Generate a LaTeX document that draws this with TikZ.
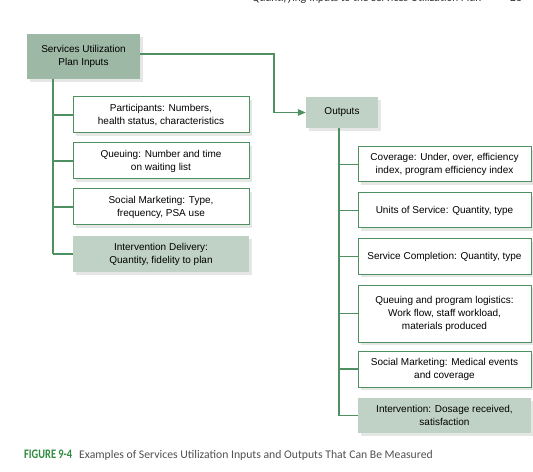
\documentclass[tikz,border=0pt]{standalone}
\usepackage{fontspec}
\setmainfont{Liberation Sans}
\newfontfamily\capfont{Carlito}
\usetikzlibrary{arrows.meta,shadows}
\definecolor{lgreen}{HTML}{4F9062}
\definecolor{darkfill}{HTML}{9DB8A4}
\definecolor{lightfill}{HTML}{C0D2C5}
\definecolor{shgray}{HTML}{E4E7E4}
\definecolor{capgreen}{HTML}{2E8B3E}
\definecolor{captext}{HTML}{505050}
\tikzset{
  base/.style={align=center, inner sep=1bp, font=\fontsize{10bp}{13bp}\selectfont, text=black,
    drop shadow={shadow xshift=3bp, shadow yshift=-3bp, fill=shgray, opacity=1}},
  whitebox/.style={base, draw=lgreen, line width=1bp, fill=white},
  darkbox/.style={base, fill=darkfill},
  lightbox/.style={base, fill=lightfill},
  conn/.style={draw=lgreen, line width=1.1bp},
  arr/.style={conn, -{Triangle[length=8bp,width=6.5bp]}}
}
\begin{document}
\begin{tikzpicture}[x=1bp,y=-1bp]
\useasboundingbox (0,0) rectangle (533,472);
% header (cut off at the top edge, as in the reference)
\node[anchor=base west, inner sep=0, font=\capfont\itshape\fontsize{11.5bp}{13bp}\selectfont, text=black!80] (hdr) at (252,2) {Quantifying Inputs to the Services Utilization Plan};
\node[anchor=base west, inner sep=0, font=\capfont\fontsize{11.5bp}{13bp}\selectfont, text=black!80] (pg) at (510,2) {23};
% inputs side
\node[darkbox, minimum width=113bp, minimum height=45bp] (in) at (83.5,56.5) {Services Utilization\\Plan Inputs};
\node[whitebox, minimum width=176bp, minimum height=36bp] (p) at (161,115) {Participants: Numbers,\\health status, characteristics};
\node[whitebox, minimum width=176bp, minimum height=36bp] (q) at (161,161) {Queuing: Number and time\\on waiting list};
\node[whitebox, minimum width=176bp, minimum height=36bp] (sm) at (161,207) {Social Marketing: Type,\\frequency, PSA use};
\node[lightbox, minimum width=176bp, minimum height=36bp] (id) at (161,254) {Intervention Delivery:\\Quantity, fidelity to plan};
% outputs side
\node[lightbox, minimum width=72bp, minimum height=31bp] (out) at (342,112.5) {Outputs};
\node[whitebox, minimum width=173bp, minimum height=35bp] (cov) at (444.5,164.5) {Coverage: Under, over, efficiency\\index, program efficiency index};
\node[whitebox, minimum width=173bp, minimum height=35bp] (uos) at (444.5,210.5) {Units of Service: Quantity, type};
\node[whitebox, minimum width=173bp, minimum height=35bp] (sc) at (444.5,256.5) {Service Completion: Quantity, type};
\node[whitebox, minimum width=173bp, minimum height=57bp] (ql) at (444.5,313.5) {Queuing and program logistics:\\Work flow, staff workload,\\materials produced};
\node[whitebox, minimum width=173bp, minimum height=36bp] (so) at (444.5,369) {Social Marketing: Medical events\\and coverage};
\node[lightbox, minimum width=173bp, minimum height=35bp] (iv) at (444.5,415.5) {Intervention: Dosage received,\\satisfaction};
% connectors
\coordinate (lx) at (53,0);
\coordinate (rx) at (339,0);
\coordinate (bend) at (274,112.5);
\draw[conn] (in.south -| lx) -- (id.west -| lx);
\foreach \b in {p,q,sm,id} \draw[conn] (\b.west -| lx) -- (\b.west);
\draw[conn] (out.south -| rx) -- (iv.west -| rx);
\foreach \b in {cov,uos,sc,ql,so,iv} \draw[conn] (\b.west -| rx) -- (\b.west);
\draw[arr] ([yshift=2.5bp]in.east) -| (bend) -- (out.west);
% caption
\node[anchor=base west, inner sep=0, font=\capfont\bfseries\fontsize{13bp}{14bp}\selectfont, text=capgreen] (fig) at (24,458) {\scalebox{0.8}[1]{FIGURE 9-4}};
\node[anchor=base west, inner sep=0, font=\capfont\fontsize{11.7bp}{13bp}\selectfont, text=captext] (cap) at (79,458) {Examples of Services Utilization Inputs and Outputs That Can Be Measured};
\end{tikzpicture}
\end{document}
